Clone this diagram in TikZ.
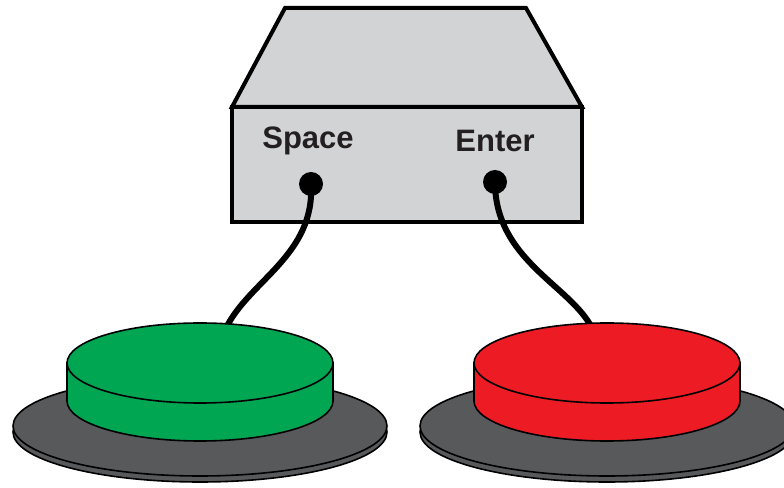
\documentclass[tikz,border=0pt]{standalone}
\usepackage{fontspec}
\setmainfont{Liberation Sans}
\definecolor{boxgray}{HTML}{D1D3D4}
\definecolor{basegray}{HTML}{58595B}
\definecolor{btngreen}{HTML}{00A651}
\definecolor{btnred}{HTML}{ED1C24}
\definecolor{inkblack}{HTML}{231F20}
\tikzset{
  boxline/.style={draw=black, line width=4pt, line join=miter, fill=boxgray},
  btnline/.style={draw=black, line width=1.6pt},
  cable/.style={draw=black, line width=6pt, line cap=round},
  port/.style={circle, fill=black, inner sep=0pt, minimum size=24pt},
  keylabel/.style={font=\bfseries\fontsize{31}{36}\selectfont, text=inkblack, inner sep=0pt},
}
% a foot switch: grey base plate with a coloured cylindrical cap
\newcommand\footswitch[2]{%
  \draw[btnline, fill=basegray] (#1,55) ellipse [x radius=187, y radius=50];
  \draw[btnline, fill=basegray] (#1,61) ellipse [x radius=187, y radius=50];
  \draw[btnline, fill=#2] (#1-133,124) -- (#1-133,86)
    arc [start angle=180, end angle=360, x radius=133, y radius=40]
    -- (#1+133,124) -- cycle;
  \draw[btnline, fill=#2] (#1,124) ellipse [x radius=133, y radius=40];
}
\begin{document}
\begin{tikzpicture}[x=1pt, y=1pt]
\useasboundingbox (0,0) rectangle (784,487);

% interface box
\draw[boxline] (232,380) -- (285,479) -- (526,479) -- (582,380) -- cycle;
\draw[boxline] (232,265) rectangle (582,380);
\node[keylabel] (spacelabel) at (308,346) {Space};
\node[keylabel] (enterlabel) at (495,346) {Enter};
\node[port] (spaceport) at (311,303) {};
\node[port] (enterport) at (495,305) {};

% cable ends, hidden under the switch caps
\coordinate (greenend) at (226,159);
\coordinate (redend) at (592,159);
\draw[cable] (spaceport.center) .. controls (315,232) and (250,207) .. (greenend);
\draw[cable] (enterport.center) .. controls (495,227) and (570,202) .. (redend);

% switches
\footswitch{200}{btngreen}
\footswitch{607}{btnred}
\end{tikzpicture}
\end{document}
